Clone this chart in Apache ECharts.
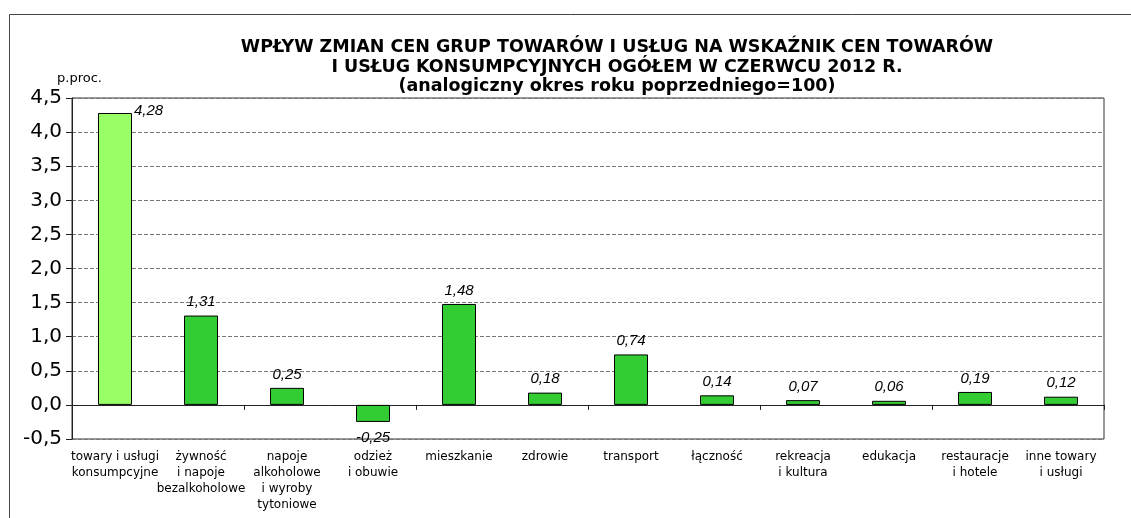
<!DOCTYPE html>
<html>
<head>
<meta charset="utf-8">
<script src="https://cdn.jsdelivr.net/npm/echarts@6/dist/echarts.min.js"></script>
<style>
  html, body { margin: 0; padding: 0; background: #fff; }
  #chart { width: 1131px; height: 518px; }
</style>
</head>
<body>
<div id="chart"></div>
<script>
var categories = [
  'towary i usługi\nkonsumpcyjne',
  'żywność\ni napoje\nbezalkoholowe',
  'napoje\nalkoholowe\ni wyroby\ntytoniowe',
  'odzież\ni obuwie',
  'mieszkanie',
  'zdrowie',
  'transport',
  'łączność',
  'rekreacja\ni kultura',
  'edukacja',
  'restauracje\ni hotele',
  'inne towary\ni usługi'
]
var values = [4.28, 1.31, 0.25, -0.25, 1.48, 0.18, 0.74, 0.14, 0.07, 0.06, 0.19, 0.12]
var yTicks = [-0.5, 0, 0.5, 1, 1.5, 2, 2.5, 3, 3.5, 4, 4.5]

var fontFam = '"Liberation Sans", Arial, sans-serif'
var wideFam = '"DejaVu Sans", sans-serif'

function fmt(v, d) {
  return v.toFixed(d).replace('.', ',')
}

var chart = echarts.init(document.getElementById('chart'))

var barData = values.map(function (v, i) {
  var item = { value: v }
  if (i === 0) {
    item.itemStyle = { color: '#99FF66' }
    item.label = { position: [36, -10], align: 'left', verticalAlign: 'top' }
  } else if (v < 0) {
    item.label = { position: 'bottom', distance: 8 }
  }
  return item
})

chart.setOption({
  animation: false,
  title: {
    text: 'WPŁYW ZMIAN CEN GRUP TOWARÓW I USŁUG NA WSKAŹNIK CEN TOWARÓW\nI USŁUG KONSUMPCYJNYCH OGÓŁEM W CZERWCU 2012 R.\n(analogiczny okres roku poprzedniego=100)',
    left: 612,
    top: 33,
    textAlign: 'center',
    textStyle: {
      fontFamily: wideFam,
      fontWeight: 'bold',
      fontSize: 17.5,
      lineHeight: 19.5,
      color: '#000'
    }
  },
  graphic: [
    {
      type: 'rect',
      shape: { x: 9.5, y: 14.5, width: 1300, height: 600 },
      style: { fill: 'none', stroke: '#444', lineWidth: 1 },
      silent: true
    },
    {
      type: 'text',
      left: 57,
      top: 72,
      style: { text: 'p.proc.', font: '13px ' + wideFam, fill: '#000' }
    }
  ],
  grid: {
    left: 72,
    right: 27,
    top: 98,
    bottom: 79,
    show: true,
    borderColor: '#333',
    borderWidth: 1
  },
  xAxis: [
    {
      type: 'category',
      data: categories,
      axisLine: { show: false, onZero: false },
      axisTick: { show: false },
      axisLabel: {
        interval: 0,
        margin: 10,
        fontFamily: wideFam,
        fontSize: 12,
        lineHeight: 16,
        color: '#000'
      }
    },
    {
      type: 'category',
      data: categories,
      position: 'bottom',
      axisLine: { show: true, onZero: true, lineStyle: { color: '#222', width: 1 } },
      axisTick: { show: true, length: 5, lineStyle: { color: '#222' } },
      axisLabel: { show: false }
    }
  ],
  yAxis: {
    type: 'value',
    min: yTicks[0],
    max: yTicks[yTicks.length - 1],
    interval: 0.5,
    axisLine: { show: true, lineStyle: { color: '#222' } },
    axisTick: { show: true, length: 6, lineStyle: { color: '#222' } },
    axisLabel: {
      margin: 10,
      fontFamily: wideFam,
      fontSize: 20,
      color: '#000',
      formatter: function (v) { return fmt(v, 1) }
    },
    splitLine: { show: true, lineStyle: { color: '#777', type: 'dashed', width: 1 } }
  },
  series: [
    {
      type: 'bar',
      xAxisIndex: 0,
      data: barData,
      barWidth: 34,
      itemStyle: { color: '#33CC33', borderColor: '#000', borderWidth: 1 },
      label: {
        show: true,
        position: 'top',
        distance: 6,
        fontFamily: fontFam,
        fontStyle: 'italic',
        fontSize: 15,
        color: '#000',
        formatter: function (p) { return fmt(p.value, 2) }
      }
    }
  ]
})
</script>
</body>
</html>
